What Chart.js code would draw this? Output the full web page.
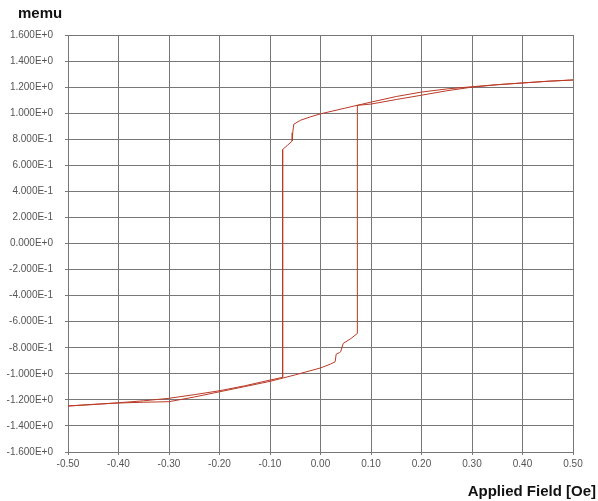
<html>
<head>
<meta charset="UTF-8">
<title>Hysteresis loop</title>
<script src="https://cdn.jsdelivr.net/npm/chart.js@4.4.0/dist/chart.umd.min.js"></script>
<style>
  body { margin: 0; background: #fff; }
  canvas { display: block; }
</style>
</head>
<body>
<canvas id="myChart" width="598" height="501"></canvas>
<script>
// field sweep from +0.5 down to -0.5
var downField = [0.50, 0.45, 0.40, 0.35, 0.30, 0.25, 0.20, 0.15, 0.10, 0.05, 0.00, -0.02, -0.04, -0.053, -0.055, -0.056,
  -0.065, -0.074, -0.075, -0.075, -0.10, -0.15, -0.20, -0.25, -0.30, -0.35, -0.40, -0.45, -0.50];
var downMoment = [1.255, 1.245, 1.232, 1.219, 1.203, 1.186, 1.162, 1.128, 1.085, 1.040, 0.995, 0.972, 0.945, 0.915, 0.850, 0.787,
  0.755, 0.725, 0.720, -1.027, -1.048, -1.092, -1.130, -1.160, -1.188, -1.207, -1.222, -1.236, -1.247];

// field sweep from -0.5 back up to +0.5
var upField = [-0.50, -0.45, -0.40, -0.35, -0.30, -0.25, -0.20, -0.15, -0.10, -0.05, 0.00, 0.02, 0.029, 0.031, 0.038, 0.040,
  0.045, 0.060, 0.073, 0.073, 0.10, 0.15, 0.20, 0.25, 0.30, 0.35, 0.40, 0.45, 0.50];
var upMoment = [-1.247, -1.234, -1.224, -1.218, -1.214, -1.178, -1.138, -1.098, -1.058, -1.008, -0.955, -0.925, -0.907, -0.850, -0.836, -0.830,
  -0.767, -0.730, -0.690, 1.060, 1.070, 1.105, 1.138, 1.172, 1.200, 1.218, 1.232, 1.245, 1.255];

var xTickValues = [-0.5, -0.4, -0.3, -0.2, -0.1, 0, 0.1, 0.2, 0.3, 0.4, 0.5];
var xTickLabels = ['-0.50', '-0.40', '-0.30', '-0.20', '-0.10', '0.00', '0.10', '0.20', '0.30', '0.40', '0.50'];
var yTickValues = [-1.6, -1.4, -1.2, -1.0, -0.8, -0.6, -0.4, -0.2, 0, 0.2, 0.4, 0.6, 0.8, 1.0, 1.2, 1.4, 1.6];
var yTickLabels = ['-1.600E+0', '-1.400E+0', '-1.200E+0', '-1.000E+0', '-8.000E-1', '-6.000E-1', '-4.000E-1', '-2.000E-1',
  '0.000E+0', '2.000E-1', '4.000E-1', '6.000E-1', '8.000E-1', '1.000E+0', '1.200E+0', '1.400E+0', '1.600E+0'];

function toPoints(xs, ys) {
  var pts = [];
  for (var i = 0; i < xs.length; i++) {
    pts.push({x: xs[i], y: ys[i]});
  }
  return pts;
}

var lineColor = 'rgb(186,58,38)';
var gridColor = '#777';
var fontFamily = '"Liberation Sans", Arial, sans-serif';

var axisTitles = {
  id: 'axisTitles',
  afterDraw: function(chart) {
    var ctx = chart.ctx;
    ctx.save();
    ctx.fillStyle = '#111';
    ctx.font = 'bold 15px ' + fontFamily;
    ctx.textBaseline = 'alphabetic';
    ctx.textAlign = 'left';
    ctx.fillText('memu', 18, 18);
    ctx.textAlign = 'right';
    ctx.fillText('Applied Field [Oe]', 596, 496);
    ctx.restore();
  }
};

var ctx = document.getElementById('myChart').getContext('2d');
var myChart = new Chart(ctx, {
  type: 'scatter',
  data: {
    datasets: [{
      data: toPoints(downField, downMoment),
      showLine: true,
      borderColor: lineColor,
      borderWidth: 1,
      pointRadius: 0,
      tension: 0
    }, {
      data: toPoints(upField, upMoment),
      showLine: true,
      borderColor: lineColor,
      borderWidth: 1,
      pointRadius: 0,
      tension: 0
    }]
  },
  options: {
    responsive: false,
    animation: false,
    devicePixelRatio: 1,
    layout: { padding: { top: 35, right: 25, left: 0, bottom: 0 } },
    plugins: {
      legend: { display: false },
      tooltip: { enabled: false }
    },
    scales: {
      x: {
        type: 'linear',
        min: -0.5,
        max: 0.5,
        afterFit: function(s) { s.height = 49; },
        afterBuildTicks: function(s) {
          s.ticks = xTickValues.map(function(v) { return {value: v}; });
        },
        grid: { color: gridColor, tickLength: 3 },
        border: { color: gridColor },
        ticks: {
          padding: 3,
          color: '#555',
          font: { family: fontFamily, size: 10 },
          maxRotation: 0,
          callback: function(v, i) { return xTickLabels[i]; }
        }
      },
      y: {
        type: 'linear',
        min: -1.6,
        max: 1.6,
        afterFit: function(s) { s.width = 68; },
        afterBuildTicks: function(s) {
          s.ticks = yTickValues.map(function(v) { return {value: v}; });
        },
        grid: { color: gridColor, tickLength: 3 },
        border: { color: gridColor },
        ticks: {
          padding: 12,
          color: '#555',
          font: { family: fontFamily, size: 10 },
          callback: function(v, i) { return yTickLabels[i]; }
        }
      }
    }
  },
  plugins: [axisTitles]
});
</script>
</body>
</html>
